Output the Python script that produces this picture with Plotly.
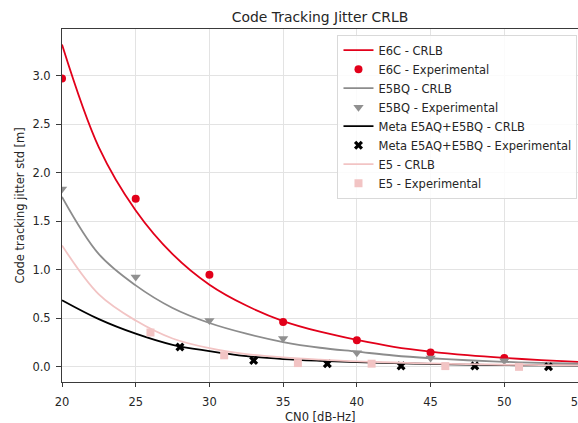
import plotly.graph_objects as go

# ---- data ----
cn0_crlb = [20, 22.5, 25, 27.5, 30, 32.5, 35, 37.5, 40, 42.5, 45, 47.5, 50, 52.5, 55]
e6c_crlb = [3.32, 2.26, 1.61, 1.16, 0.845, 0.63, 0.47, 0.36, 0.275, 0.205, 0.155, 0.118, 0.09, 0.068, 0.05]
e5bq_crlb = [1.75, 1.16, 0.838, 0.605, 0.45, 0.34, 0.254, 0.195, 0.155, 0.115, 0.087, 0.066, 0.05, 0.039, 0.03]
meta_crlb = [0.685, 0.49, 0.34, 0.225, 0.16, 0.108, 0.078, 0.06, 0.047, 0.037, 0.029, 0.022, 0.017, 0.013, 0.01]
e5_crlb = [1.25, 0.745, 0.475, 0.29, 0.19, 0.13, 0.095, 0.072, 0.055, 0.043, 0.033, 0.026, 0.02, 0.016, 0.013]

cn0_e6c = [20, 25, 30, 35, 40, 45, 50]
e6c_exp = [2.97, 1.73, 0.948, 0.46, 0.271, 0.145, 0.089]

cn0_e5bq = [20, 25, 30, 35, 40, 45, 50]
e5bq_exp = [1.83, 0.924, 0.477, 0.29, 0.144, 0.09, 0.06]

cn0_meta = [28, 33, 38, 43, 48, 53]
meta_exp = [0.202, 0.064, 0.031, 0.008, 0.008, 0.0]

cn0_e5 = [26, 31, 36, 41, 46, 51]
e5_exp = [0.352, 0.117, 0.037, 0.031, 0.006, -0.002]

x_ticks = [20, 25, 30, 35, 40, 45, 50, 55]
y_ticks = [0, 0.5, 1, 1.5, 2, 2.5, 3]

RED = "#E2001A"
GRAY_L = "#8C8C8C"
GRAY_M = "#909090"
PINK = "#F2C4C4"

fig = go.Figure()
fig.add_trace(go.Scatter(x=cn0_crlb, y=e6c_crlb, mode="lines", name="E6C - CRLB",
                         line=dict(color=RED, width=1.8, shape="spline")))
fig.add_trace(go.Scatter(x=cn0_e6c, y=e6c_exp, mode="markers", name="E6C - Experimental",
                         marker=dict(color=RED, size=8, symbol="circle")))
fig.add_trace(go.Scatter(x=cn0_crlb, y=e5bq_crlb, mode="lines", name="E5BQ - CRLB",
                         line=dict(color=GRAY_L, width=1.8, shape="spline")))
fig.add_trace(go.Scatter(x=cn0_e5bq, y=e5bq_exp, mode="markers", name="E5BQ - Experimental",
                         marker=dict(color=GRAY_M, size=9, symbol="triangle-down")))
fig.add_trace(go.Scatter(x=cn0_crlb, y=meta_crlb, mode="lines", name="Meta E5AQ+E5BQ - CRLB",
                         line=dict(color="black", width=1.8, shape="spline")))
fig.add_trace(go.Scatter(x=cn0_meta, y=meta_exp, mode="markers", name="Meta E5AQ+E5BQ - Experimental",
                         marker=dict(color="black", size=8, symbol="x")))
fig.add_trace(go.Scatter(x=cn0_crlb, y=e5_crlb, mode="lines", name="E5 - CRLB",
                         line=dict(color=PINK, width=1.8, shape="spline")))
fig.add_trace(go.Scatter(x=cn0_e5, y=e5_exp, mode="markers", name="E5 - Experimental",
                         marker=dict(color=PINK, size=8, symbol="square")))

FONT = "DejaVu Sans"
TXT = "#262626"
fig.update_layout(
    width=578, height=423,
    margin=dict(l=62, r=0, t=29, b=41),
    paper_bgcolor="white", plot_bgcolor="white",
    font=dict(family=FONT, size=11.5, color=TXT),
    title=dict(text="Code Tracking Jitter CRLB", x=0.5, xref="paper", xanchor="center",
               y=1 - 17 / 423, yref="container", yanchor="middle",
               font=dict(family=FONT, size=13.9, color=TXT)),
    showlegend=True,
    legend=dict(x=0.999, y=0.984, xanchor="right", yanchor="top",
                bgcolor="rgba(255,255,255,0.85)", bordercolor="#d9d9d9", borderwidth=1,
                font=dict(family=FONT, size=11.5, color=TXT), tracegroupgap=0),
)
fig.update_xaxes(range=[20, 55], tickvals=x_ticks,
                 showgrid=True, gridcolor="#e3e3e3", gridwidth=1, zeroline=False,
                 showline=True, linecolor="#3a3a3a", linewidth=1, mirror=True,
                 ticks="outside", ticklen=4, tickcolor="#3a3a3a", automargin=False,
                 ticklabelstandoff=5, ticklabeloverflow="allow")
fig.update_yaxes(range=[-0.158, 3.48], tickvals=y_ticks, tickformat=".1f",
                 showgrid=True, gridcolor="#e3e3e3", gridwidth=1, zeroline=False,
                 showline=True, linecolor="#3a3a3a", linewidth=1, mirror=False,
                 ticks="outside", ticklen=5, tickcolor="#3a3a3a", automargin=False,
                 ticklabelstandoff=3)

fig.add_annotation(text="CN0 [dB-Hz]", xref="paper", yref="paper", x=0.5, y=0,
                   yshift=-35, xanchor="center", yanchor="middle", showarrow=False,
                   font=dict(family=FONT, size=11.5, color=TXT))
fig.add_annotation(text="Code tracking jitter std [m]", xref="paper", yref="paper",
                   x=0, y=0.5, xshift=-43, textangle=-90, xanchor="center", yanchor="middle",
                   showarrow=False, font=dict(family=FONT, size=11.5, color=TXT))

fig.write_html("out.html")
